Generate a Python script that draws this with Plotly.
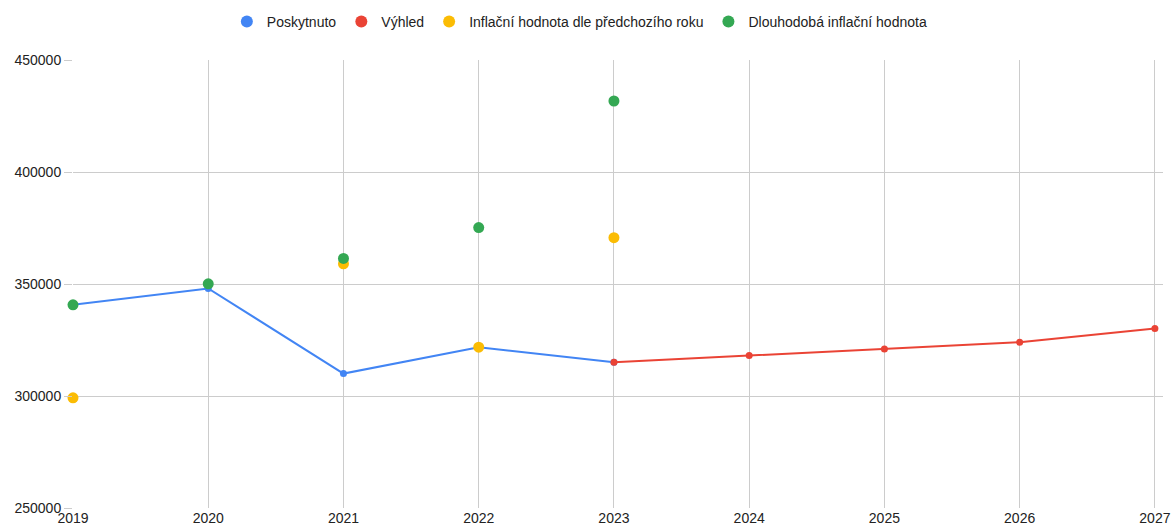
import plotly.graph_objects as go

years = [2019, 2020, 2021, 2022, 2023, 2024, 2025, 2026, 2027]
provided_years = [2019, 2020, 2021, 2022, 2023]
provided = [340700, 348000, 310000, 321800, 315100]
outlook_years = [2023, 2024, 2025, 2026, 2027]
outlook = [315100, 318100, 321000, 324000, 330100]
infl_prev_years = [2019, 2021, 2022, 2023]
infl_prev = [299200, 359000, 321800, 370700]
infl_long_years = [2019, 2020, 2021, 2022, 2023]
infl_long = [340700, 350100, 361400, 375200, 431700]
y_ticks = [250000, 300000, 350000, 400000, 450000]

names = ["Poskytnuto", "Výhled", "Inflační hodnota dle předchozího roku", "Dlouhodobá inflační hodnota"]
colors = ["#4285F4", "#EA4335", "#FBBC04", "#34A853"]

fig = go.Figure()
fig.add_trace(go.Scatter(x=provided_years, y=provided, mode="lines+markers", cliponaxis=False,
                         line=dict(color=colors[0], width=2), marker=dict(size=7, color=colors[0]),
                         showlegend=False, name=names[0]))
fig.add_trace(go.Scatter(x=outlook_years, y=outlook, mode="lines+markers", cliponaxis=False,
                         line=dict(color=colors[1], width=2), marker=dict(size=7, color=colors[1]),
                         showlegend=False, name=names[1]))
fig.add_trace(go.Scatter(x=infl_prev_years, y=infl_prev, mode="markers", cliponaxis=False,
                         marker=dict(size=11, color=colors[2]), showlegend=False, name=names[2]))
fig.add_trace(go.Scatter(x=infl_long_years, y=infl_long, mode="markers", cliponaxis=False,
                         marker=dict(size=11, color=colors[3]), showlegend=False, name=names[3]))
# legend proxies
for n, c in zip(names, colors):
    fig.add_trace(go.Scatter(x=[None], y=[None], mode="markers", name=n,
                             marker=dict(size=13, color=c)))

fig.update_layout(
    width=1171, height=528,
    margin=dict(l=73, r=8, t=60, b=20, autoexpand=False),
    paper_bgcolor="white", plot_bgcolor="white",
    font=dict(family="Liberation Sans, Arial, sans-serif", size=14, color="#222222"),
    legend=dict(orientation="h", x=0.465, xanchor="center", y=1 - 22 / 528, yanchor="middle",
                yref="container", font=dict(size=14, color="#222222"), itemsizing="constant",
                traceorder="normal"),
    showlegend=True,
)
fig.update_xaxes(range=[2019, 2027.06], tickvals=years, ticktext=[str(y) for y in years],
                 showgrid=True, gridcolor="#cccccc", gridwidth=1, zeroline=False, automargin=False,
                 showline=False, ticks="", tickfont=dict(size=14, color="#222222"))
fig.update_yaxes(range=[250000, 450000], tickvals=y_ticks, ticktext=[str(v) for v in y_ticks],
                 showgrid=True, gridcolor="#cccccc", gridwidth=1, zeroline=False, automargin=False,
                 showline=False, ticks="outside", ticklen=8, tickcolor="#cccccc",
                 tickfont=dict(size=14, color="#222222"))
fig.write_html("out.html", config={"displayModeBar": False},
               post_script="document.body.style.margin='0';document.body.style.overflow='hidden';")
